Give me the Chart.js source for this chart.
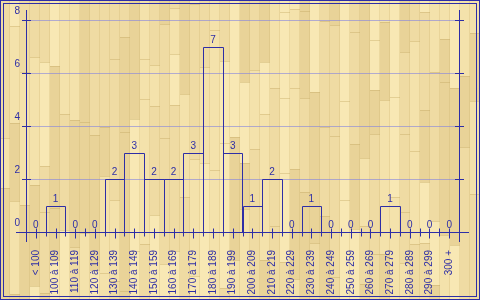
<!DOCTYPE html>
<html>
<head>
<meta charset="utf-8">
<script src="https://cdn.jsdelivr.net/npm/chart.js@4/dist/chart.umd.min.js"></script>
<style>
  html, body { margin: 0; padding: 0; background: #f0dca5; }
  #wrap { width: 480px; height: 300px; }
</style>
</head>
<body>
<div id="wrap"><canvas id="histo" width="480" height="300"></canvas></div>
<script>
// tranches de prix
const categories = ['< 100', '100 à 109', '110 à 119', '120 à 129', '130 à 139', '140 à 149',
    '150 à 159', '160 à 169', '170 à 179', '180 à 189', '190 à 199', '200 à 209', '210 à 219',
    '220 à 229', '230 à 239', '240 à 249', '250 à 259', '260 à 269', '270 à 279', '280 à 289',
    '290 à 299', '300 +'];
// nombre par tranche
const counts = [0, 1, 0, 0, 2, 3, 2, 2, 3, 7, 3, 1, 2, 0, 1, 0, 0, 0, 1, 0, 0, 0];
const yTicks = [0, 2, 4, 6, 8];

const BLUE = '#2e2ea6';
const FONT = '10px "Liberation Sans", Arial, sans-serif';

// petit hash fixe pour le parquet
function hash(a, b) {
    const s = Math.sin(a * 127.1 + b * 311.7) * 43758.5453;
    return s - Math.floor(s);
}

// fond parquet
const woodBackground = {
    id: 'woodBackground',
    beforeDraw(chart) {
        const ctx = chart.ctx;
        const tones = ['#f8e8b4', '#efdba3', '#e9d398', '#f4e2ab'];
        ctx.save();
        for (let col = 0; col < 48; col++) {
            let y = -Math.floor(hash(col, 0) * 80);
            let k = 1;
            while (y < 300) {
                const len = 40 + Math.floor(hash(col, k) * 120);
                ctx.fillStyle = tones[Math.floor(hash(k, col) * tones.length)];
                ctx.fillRect(col * 10, y, 10, len);
                ctx.fillStyle = 'rgba(190,160,90,0.35)';
                ctx.fillRect(col * 10, y, 10, 1);
                y += len;
                k++;
            }
            ctx.fillStyle = 'rgba(200,170,100,0.25)';
            ctx.fillRect(col * 10 + 9, 0, 1, 300);
        }
        ctx.restore();
    }
};

// axes, barres, graduations, valeurs et cadre
const axesDecor = {
    id: 'axesDecor',
    afterDraw(chart) {
        const ctx = chart.ctx;
        const x = chart.scales.x;
        const y = chart.scales.y;
        const a = chart.chartArea;
        const y0 = Math.round(y.getPixelForValue(0)) + 0.5;
        ctx.save();
        ctx.strokeStyle = BLUE;
        ctx.lineWidth = 1;
        ctx.beginPath();
        // contours des barres (un seul trait entre deux barres voisines)
        chart.getDatasetMeta(0).data.forEach((bar, i) => {
            if (!counts[i]) return;
            const l = Math.round(bar.x - bar.width / 2) + 0.5;
            const r = Math.round(bar.x + bar.width / 2) + 0.5;
            const t = Math.round(bar.y) + 0.5;
            ctx.moveTo(l, y0);
            ctx.lineTo(l, t);
            ctx.lineTo(r, t);
            ctx.lineTo(r, y0);
        });
        // axe x
        ctx.moveTo(a.left - 10, y0);
        ctx.lineTo(a.right + 10, y0);
        // axes verticaux
        [a.left, a.right].forEach(px => {
            ctx.moveTo(Math.round(px) + 0.5, a.top - 10);
            ctx.lineTo(Math.round(px) + 0.5, a.bottom + 10);
        });
        // graduations y
        yTicks.forEach(v => {
            const py = Math.round(y.getPixelForValue(v)) + 0.5;
            ctx.moveTo(a.left - 4, py);
            ctx.lineTo(a.left + 5, py);
            ctx.moveTo(a.right - 4, py);
            ctx.lineTo(a.right + 5, py);
        });
        // graduations x
        const w = (a.right - a.left) / categories.length;
        categories.forEach((c, i) => {
            const cx = Math.round(x.getPixelForValue(i)) + 0.5;
            ctx.moveTo(cx, y0 - 4);
            ctx.lineTo(cx, y0 + 6);
            const bx = Math.round(a.left + w * i) + 0.5;
            if (i > 0) {
                ctx.moveTo(bx, y0 - 4);
                ctx.lineTo(bx, y0 + 4);
            }
        });
        ctx.stroke();

        // valeurs
        ctx.fillStyle = BLUE;
        ctx.font = FONT;
        ctx.textAlign = 'center';
        ctx.textBaseline = 'alphabetic';
        chart.getDatasetMeta(0).data.forEach((bar, i) => {
            ctx.fillText(String(counts[i]), bar.x, bar.y - 4);
        });

        // cadre double
        ctx.strokeRect(0.5, 0.5, 479, 299);
        ctx.strokeRect(3.5, 3.5, 473, 293);
        ctx.restore();
    }
};

function initHisto() {
    const ctx = document.getElementById('histo').getContext('2d');
    new Chart(ctx, {
        type: 'bar',
        data: {
            labels: categories,
            datasets: [{
                data: counts,
                backgroundColor: 'rgba(0,0,0,0)',
                borderWidth: 0,
                categoryPercentage: 1,
                barPercentage: 1
            }]
        },
        options: {
            responsive: false,
            animation: false,
            events: [],
            layout: { padding: { left: 0, right: 21, top: 20, bottom: 0 } },
            plugins: { legend: { display: false }, tooltip: { enabled: false } },
            scales: {
                x: {
                    afterFit(scale) { scale.height = 68; },
                    border: { display: false },
                    grid: { display: false },
                    ticks: {
                        autoSkip: false,
                        minRotation: 90,
                        maxRotation: 90,
                        padding: 10,
                        color: BLUE,
                        font: { family: '"Liberation Sans", Arial, sans-serif', size: 10 }
                    }
                },
                y: {
                    min: 0,
                    max: 8,
                    afterFit(scale) { scale.width = 26; },
                    afterBuildTicks(scale) { scale.ticks = yTicks.map(v => ({ value: v })); },
                    border: { display: false },
                    grid: {
                        drawTicks: false,
                        color: ctx => ctx.tick && ctx.tick.value === 0 ? 'rgba(0,0,0,0)' : 'rgba(130,130,225,0.6)'
                    },
                    ticks: {
                        padding: 6,
                        labelOffset: -9,
                        color: BLUE,
                        font: { family: '"Liberation Sans", Arial, sans-serif', size: 10 }
                    }
                }
            }
        },
        plugins: [woodBackground, axesDecor]
    });
}

document.addEventListener('DOMContentLoaded', initHisto);
</script>
</body>
</html>
